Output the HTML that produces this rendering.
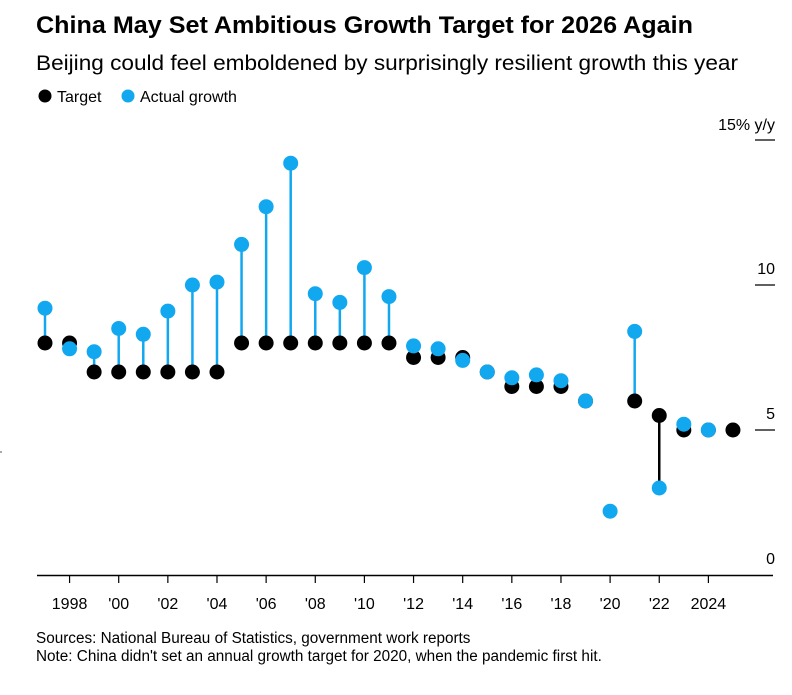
<!DOCTYPE html>
<html><head><style>
body{margin:0;background:#fff;font-family:"Liberation Sans",sans-serif;}
</style></head><body>
<svg width="792" height="690" xmlns="http://www.w3.org/2000/svg" font-family="Liberation Sans, sans-serif">
<text x="36" y="33" font-size="24.5" font-weight="bold" fill="#000" textLength="657" lengthAdjust="spacingAndGlyphs">China May Set Ambitious Growth Target for 2026 Again</text>
<text x="36" y="70" font-size="21" fill="#000" textLength="702" lengthAdjust="spacingAndGlyphs">Beijing could feel emboldened by surprisingly resilient growth this year</text>
<circle cx="45" cy="96" r="6.5" fill="#000"/><text x="57" y="102" font-size="16">Target</text>
<circle cx="128" cy="96" r="6.5" fill="#12a8f0"/><text x="140" y="102" font-size="16">Actual growth</text>
<g font-size="16" text-anchor="end" fill="#000">
<text x="775" y="130">15% y/y</text><text x="775" y="274">10</text><text x="775" y="419">5</text><text x="775" y="564">0</text>
</g>
<g stroke="#000" stroke-width="1.2">
<line x1="755" y1="140" x2="775" y2="140"/><line x1="755" y1="285" x2="775" y2="285"/><line x1="755" y1="430" x2="775" y2="430"/>
<line x1="37" y1="575.5" x2="773" y2="575.5" stroke-width="1.5"/>
</g>
<line x1="0" y1="452" x2="2" y2="452" stroke="#555"/>
<g id="c"></g>
</svg>
<script>
var act=[9.2,7.8,7.7,8.5,8.3,9.1,10.0,10.1,11.4,12.7,14.2,9.7,9.4,10.6,9.6,7.9,7.8,7.4,7.0,6.8,6.9,6.7,6.0,2.2,8.4,3.0,5.2,5.0,null];
var tgt=[8,8,7,7,7,7,7,7,8,8,8,8,8,8,8,7.5,7.5,7.5,7,6.5,6.5,6.5,6,null,6,5.5,5,5,5];
var g=document.getElementById('c'),s='';
function X(i){return 45+i*24.57;}function Y(v){return 575-v*29;}
var lbl={1:'1998',3:"'00",5:"'02",7:"'04",9:"'06",11:"'08",13:"'10",15:"'12",17:"'14",19:"'16",21:"'18",23:"'20",25:"'22",27:'2024'};
for(var i=0;i<29;i++){var x=X(i);
if(lbl[i]){s+='<line x1="'+x+'" y1="576" x2="'+x+'" y2="583" stroke="#000" stroke-width="1.2"/><text x="'+x+'" y="609" font-size="16" text-anchor="middle">'+lbl[i]+'</text>';}
if(act[i]!=null&&tgt[i]!=null){s+='<line x1="'+x+'" y1="'+Y(act[i])+'" x2="'+x+'" y2="'+Y(tgt[i])+'" stroke="'+(act[i]>=tgt[i]?'#12a8f0':'#000')+'" stroke-width="2.5"/>';}}
for(var i=0;i<29;i++){if(tgt[i]!=null)s+='<circle cx="'+X(i)+'" cy="'+Y(tgt[i])+'" r="7.5" fill="#000"/>';}
for(var i=0;i<29;i++){if(act[i]!=null)s+='<circle cx="'+X(i)+'" cy="'+Y(act[i])+'" r="7.5" fill="#12a8f0"/>';}
g.innerHTML=s;
</script>
<div style="position:absolute;left:36px;top:630px;font-size:15.3px;line-height:18px;color:#000">Sources: National Bureau of Statistics, government work reports<br>Note: China didn't set an annual growth target for 2020, when the pandemic first hit.</div>
</body></html>
